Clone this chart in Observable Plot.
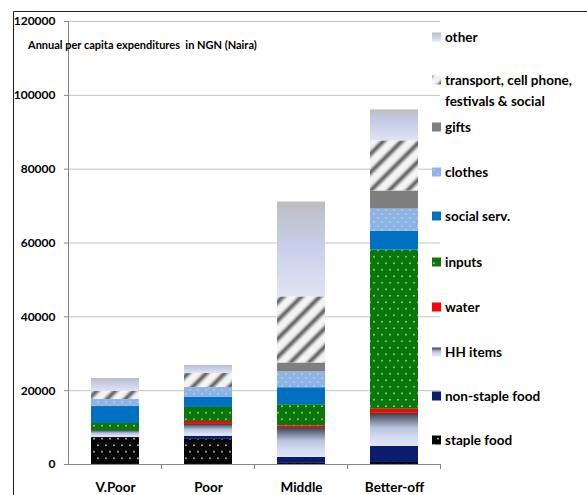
<!DOCTYPE html>
<html>
<head>
<meta charset="utf-8">
<script src="https://cdn.jsdelivr.net/npm/d3@7"></script>
<script src="https://cdn.jsdelivr.net/npm/@observablehq/plot@0.6"></script>
<style>
  html, body { margin: 0; padding: 0; background: #fff; }
  #chart { position: relative; width: 587px; height: 495px; }
  svg { font-family: Lato, "Open Sans", sans-serif; }
</style>
</head>
<body>
<div id="chart"></div>
<script>
// Wealth groups along the x axis
const groups = ["V.Poor", "Poor", "Middle", "Better-off"];

// Expenditure items, stacked bottom to top
const items = [
  "staple food", "non-staple food", "HH items", "water", "inputs",
  "social serv.", "clothes", "gifts",
  "transport, cell phone, festivals & social", "other"
];

// Annual per capita expenditure (NGN) per item, one value per group
const stapleFood    = [7300, 6800, 300, 550];
const nonStapleFood = [0, 800, 1600, 4350];
const hhItems       = [1900, 3250, 8100, 8950];
const water         = [0, 800, 500, 1100];
const inputs        = [1900, 3800, 5700, 43100];
const socialServ    = [4600, 2700, 4600, 5150];
const clothes       = [1900, 2700, 4300, 6000];
const gifts         = [0, 0, 2400, 4900];
const transport     = [2200, 3800, 17900, 13550];
const other         = [3500, 2200, 25700, 8400];

const yTicks = [0, 20000, 40000, 60000, 80000, 100000, 120000];

const series = [stapleFood, nonStapleFood, hhItems, water, inputs,
                socialServ, clothes, gifts, transport, other];

const rows = [];
items.forEach((item, i) => {
  groups.forEach((group, j) => rows.push({group, item, value: series[i][j]}));
});

// fill for each item: flat colours, gradients and textures defined below
const fills = [
  "url(#p-staple)", "#0b1c6e", "url(#g-hh)", "#ff0000", "url(#p-inputs)",
  "#0070c0", "url(#p-clothes)", "#7f7f7f", "url(#p-stripes)", "url(#g-other)"
];

const grey = "#868686";

const plot = Plot.plot({
  width: 587,
  height: 495,
  marginLeft: 68,
  marginRight: 147,
  marginTop: 21,
  marginBottom: 31,
  x: {domain: groups, paddingInner: 0.484, paddingOuter: 0.242, axis: null, label: null},
  y: {domain: [0, 120000], axis: null, label: null},
  color: {domain: items, range: fills},
  marks: [
    Plot.gridY(yTicks, {stroke: "#c4c4c4", strokeOpacity: 1}),
    Plot.axisY(yTicks, {
      tickSize: 4, tickPadding: 9, stroke: grey, color: "#000", label: null,
      tickFormat: d => String(d), fontWeight: "bold", fontSize: 12
    }),
    Plot.barY(rows, Plot.stackY({x: "group", y: "value", fill: "item"})),
    Plot.frame({anchor: "left", stroke: grey}),
    Plot.frame({anchor: "bottom", stroke: grey}),
    Plot.axisX({tickSize: 0, tickPadding: 18, fontWeight: "bold", fontSize: 13.5, color: "#000", label: null})
  ]
});

document.getElementById("chart").appendChild(plot);

const svg = d3.select(plot);
const defs = svg.insert("defs", ":first-child");

// dotted texture helper
function dotted(id, base, dot, w, h, r) {
  const p = defs.append("pattern").attr("id", id)
    .attr("patternUnits", "userSpaceOnUse").attr("width", w).attr("height", h);
  p.append("rect").attr("width", w).attr("height", h).attr("fill", base);
  p.append("circle").attr("cx", w / 4).attr("cy", h / 4).attr("r", r).attr("fill", dot);
  p.append("circle").attr("cx", 3 * w / 4).attr("cy", 3 * h / 4).attr("r", r).attr("fill", dot);
}
dotted("p-staple", "#050505", "#bdbdbd", 8, 13, 0.9);
dotted("p-inputs", "#0b760b", "#86dc86", 8, 13, 0.9);
dotted("p-clothes", "#8db3e4", "#a9c8f0", 8, 8, 1.2);

// diagonal stripes
const st = defs.append("pattern").attr("id", "p-stripes")
  .attr("patternUnits", "userSpaceOnUse").attr("width", 13).attr("height", 13)
  .attr("patternTransform", "rotate(45)");
const sg = defs.append("linearGradient").attr("id", "g-stripe").attr("x1", 0).attr("x2", 1).attr("y1", 0).attr("y2", 0);
[["0%", "#f6f6f6"], ["25%", "#eeeeee"], ["40%", "#9a9a9a"], ["52%", "#555555"], ["66%", "#9e9e9e"], ["82%", "#efefef"], ["100%", "#f6f6f6"]]
  .forEach(([o, c]) => sg.append("stop").attr("offset", o).attr("stop-color", c));
st.append("rect").attr("width", 13).attr("height", 13).attr("fill", "url(#g-stripe)");

// vertical gradients
function vgrad(id, stops) {
  const g = defs.append("linearGradient").attr("id", id)
    .attr("x1", 0).attr("x2", 0).attr("y1", 0).attr("y2", 1);
  stops.forEach(([o, c]) => g.append("stop").attr("offset", o).attr("stop-color", c));
}
vgrad("g-hh", [["0%", "#393d47"], ["18%", "#6d7388"], ["45%", "#b9c3df"], ["75%", "#d4dcf1"], ["100%", "#e0e6f6"]]);
vgrad("g-other", [["0%", "#bdbdc1"], ["45%", "#c7ceeb"], ["100%", "#e0e4f2"]]);

// ticks between the categories on the x axis
const xs = plot.scale("x");
const ys = plot.scale("y");
const y0 = ys.apply(0);
const edges = groups.map(g => xs.apply(g) - (xs.step - xs.bandwidth) / 2);
edges.push(edges[edges.length - 1] + xs.step);
svg.append("g").selectAll("line").data(edges.slice(1)).join("line")
  .attr("x1", d => d).attr("x2", d => d)
  .attr("y1", y0).attr("y2", y0 + 5)
  .attr("stroke", grey);

// chart frame
svg.append("path").attr("d", "M13.5,495V11.5H587").attr("fill", "none").attr("stroke", "#222").attr("stroke-width", 1);

// title
svg.append("text").attr("x", 28).attr("y", 49).attr("text-anchor", "start")
  .attr("font-size", 11).attr("font-weight", "bold").attr("fill", "#000")
  .text("Annual per capita expenditures  in NGN (Naira)");

// legend, top entry first
const legend = [
  {i: 9, lines: ["other"], y: 37},
  {i: 8, lines: ["transport, cell phone,", "festivals & social"], y: 80},
  {i: 7, lines: ["gifts"], y: 127},
  {i: 6, lines: ["clothes"], y: 172},
  {i: 5, lines: ["social serv."], y: 216},
  {i: 4, lines: ["inputs"], y: 262},
  {i: 3, lines: ["water"], y: 307},
  {i: 2, lines: ["HH items"], y: 352},
  {i: 1, lines: ["non-staple food"], y: 396},
  {i: 0, lines: ["staple food"], y: 440}
];
const lg = svg.append("g").attr("text-anchor", "start");
legend.forEach(e => {
  lg.append("rect").attr("x", 432).attr("y", e.y - 4.5).attr("width", 9).attr("height", 9)
    .attr("fill", fills[e.i]);
  e.lines.forEach((t, k) => {
    lg.append("text").attr("x", 445).attr("y", e.y + k * 21).attr("dy", "0.35em")
      .attr("font-size", 13.5).attr("font-weight", "bold").attr("fill", "#000").text(t);
  });
});
</script>
</body>
</html>
